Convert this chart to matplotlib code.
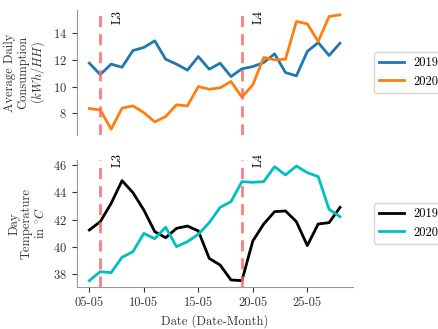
import matplotlib
matplotlib.use("Agg")
import matplotlib.pyplot as plt
import matplotlib.dates as mdates
import pandas as pd

plt.rcParams['font.family'] = ['cmr10', 'DejaVu Serif']
plt.rcParams['mathtext.fontset'] = 'cm'
plt.rcParams['axes.unicode_minus'] = False
plt.rcParams['axes.formatter.use_mathtext'] = True

dates = pd.date_range('2020-05-05', '2020-05-28', freq='D')

cons_2019 = [11.75, 10.9, 11.68, 11.45, 12.7, 12.93, 13.43, 12.05, 11.68, 11.23, 12.25, 11.3,
             11.75, 10.75, 11.33, 11.5, 11.8, 12.45, 11.05, 10.8, 12.63, 13.3, 12.33, 13.25]
cons_2020 = [8.35, 8.25, 6.8, 8.38, 8.55, 8.05, 7.35, 7.75, 8.63, 8.55, 10.0, 9.8,
             9.9, 10.38, 9.2, 10.13, 12.18, 12.0, 12.05, 14.88, 14.7, 13.38, 15.25, 15.38]
temp_2019 = [41.24, 41.85, 43.2, 44.87, 43.99, 42.71, 41.12, 40.67, 41.36, 41.53, 41.17, 39.15,
             38.66, 37.56, 37.51, 40.43, 41.68, 42.59, 42.64, 41.85, 40.09, 41.68, 41.78, 42.9]
temp_2020 = [37.51, 38.17, 38.1, 39.23, 39.64, 40.99, 40.6, 41.44, 40.01, 40.38, 40.92, 41.78,
             42.9, 43.33, 44.8, 44.75, 44.8, 45.9, 45.29, 45.95, 45.46, 45.17, 42.76, 42.22]
lockdowns = {'L3': '2020-05-06', 'L4': '2020-05-19'}
xtick_dates = ['2020-05-05', '2020-05-10', '2020-05-15', '2020-05-20', '2020-05-25']

FS = 9
fig = plt.figure(figsize=(4.39, 3.29), dpi=100)
ax1 = fig.add_axes([0.175, 0.590, 0.628, 0.380])
ax2 = fig.add_axes([0.175, 0.128, 0.628, 0.386], sharex=ax1)

ax1.plot(dates, cons_2019, color='#1f77b4', lw=2, label='2019')
ax1.plot(dates, cons_2020, color='#ff7f0e', lw=2, label='2020')
ax2.plot(dates, temp_2019, color='black', lw=2, label='2019')
ax2.plot(dates, temp_2020, color='#00bfbf', lw=2, label='2020')

ax1.set_ylim(6.375, 15.75)
ax2.set_ylim(37.05, 46.4)
ax1.set_yticks([8, 10, 12, 14])
ax2.set_yticks([38, 40, 42, 44, 46])

for ax, ytop in ((ax1, 1.0), (ax2, 1.055)):
    for name, d in lockdowns.items():
        dd = pd.Timestamp(d)
        ax.axvline(dd, color='#ff6666', ls='--', lw=2, alpha=0.85, dashes=(4, 2.5))
        ax.text(dd + pd.Timedelta(hours=24), ytop, name, rotation=90,
                va='top', ha='left', fontsize=FS,
                transform=ax.get_xaxis_transform())
    ax.spines['top'].set_visible(False)
    ax.spines['right'].set_visible(False)
    ax.tick_params(labelsize=FS, colors='#333333', length=3.5)
    for sp in ax.spines.values():
        sp.set_color('#999999')
    ax.legend(loc='center left', bbox_to_anchor=(1.077, 0.5), borderaxespad=0, fontsize=FS)

ax1.spines['bottom'].set_visible(False)
ax1.tick_params(axis='x', bottom=False, labelbottom=False)

ax2.set_xticks([pd.Timestamp(t) for t in xtick_dates])
ax2.xaxis.set_major_formatter(mdates.DateFormatter('%d-%m'))

ax1.set_ylabel('Average Daily\nConsumption\n($kWh/HH$)', fontsize=FS, color='#333333',
               linespacing=1.05)
ax2.set_ylabel('Day\nTemperature\nin $^{\\circ}C$', fontsize=FS, color='#333333',
               linespacing=1.05)
ax2.set_xlabel('Date (Date-Month)', fontsize=FS, color='#333333')

fig.savefig('out.png', dpi=100)
